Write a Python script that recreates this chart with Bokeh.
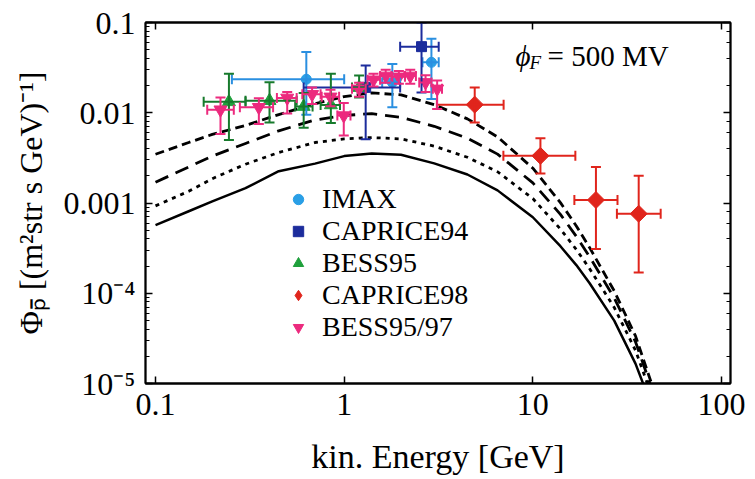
from bokeh.plotting import figure
from bokeh.models import (ColumnDataSource, Whisker, TeeHead, Legend, LegendItem, LogAxis,
                          LogTicker, CustomJSTickFormatter, Label)
from bokeh.embed import file_html
from bokeh.resources import INLINE

FONT = "Liberation Serif"

# ---- propagated antiproton flux models (phi_F = 500 MV) ----
energy_grid = [0.1, 0.15, 0.2, 0.3, 0.45, 0.7, 1.0, 1.4, 2.0, 3.0, 4.5, 6.5,
               10, 14, 17, 20, 27, 35, 45]
flux_solid = [5.7e-4, 8.1e-4, 1.04e-3, 1.46e-3, 2.25e-3, 2.73e-3, 3.31e-3, 3.54e-3,
              3.42e-3, 2.75e-3, 2.07e-3, 1.38e-3, 6.95e-4, 3.32e-4, 2.05e-4, 1.29e-4,
              4.97e-5, 1.66e-5, 4.2e-6]
flux_dotted = [9.3e-4, 1.35e-3, 1.86e-3, 2.69e-3, 3.63e-3, 4.68e-3, 5.13e-3, 5.31e-3,
               5.13e-3, 4.27e-3, 3.21e-3, 2.22e-3, 1.12e-3, 5.15e-4, 3.05e-4, 1.87e-4,
               6.97e-5, 2.33e-5, 5.4e-6]
flux_dashed = [1.7e-3, 2.51e-3, 3.31e-3, 4.57e-3, 6.31e-3, 8.32e-3, 9.33e-3, 9.77e-3,
               8.91e-3, 7.08e-3, 5.22e-3, 3.48e-3, 1.67e-3, 7.48e-4, 4.27e-4, 2.53e-4,
               8.87e-5, 2.9e-5, 6.4e-6]
flux_short_dashed = [3.47e-3, 4.68e-3, 5.75e-3, 7.24e-3, 9.55e-3, 1.26e-2, 1.51e-2,
                     1.66e-2, 1.58e-2, 1.23e-2, 8.55e-3, 5.4e-3, 2.43e-3, 1.01e-3, 5.57e-4,
                     3.2e-4, 1.06e-4, 3.37e-5, 7.1e-6]

# ---- measurements ----
imax_E = [0.63, 1.8, 2.9]
imax_E_lo = [0.254, 1.59, 2.6]
imax_E_hi = [1.0, 1.98, 3.17]
imax_flux = [0.0235, 0.0217, 0.0362]
imax_flux_lo = [0.0095, 0.0115, 0.0142]
imax_flux_hi = [0.047, 0.0347, 0.066]

caprice94_E = [1.30, 2.57]
caprice94_E_lo = [0.61, 1.98]
caprice94_E_hi = [1.98, 3.17]
caprice94_flux = [0.0191, 0.054]
caprice94_flux_lo = [0.0051, 0.0168]
caprice94_flux_hi = [0.0333, 0.1]

bess95_E = [0.245, 0.402, 0.61, 0.85, 1.2]
bess95_E_lo = [0.18, 0.30, 0.55, 0.75, 1.1]
bess95_E_hi = [0.30, 0.56, 0.68, 0.95, 1.3]
bess95_flux = [0.0132, 0.0136, 0.0117, 0.0122, 0.019]
bess95_flux_lo = [0.0050, 0.0078, 0.0068, 0.0077, 0.0148]
bess95_flux_hi = [0.027, 0.0218, 0.0165, 0.027, 0.0258]

caprice98_E = [4.92, 10.97, 21.6, 36.4]
caprice98_E_lo = [3.1, 6.98, 16.6, 27.9]
caprice98_E_hi = [7.0, 16.8, 28.1, 47.6]
caprice98_flux = [0.0123, 0.00333, 0.00108, 0.00076]
caprice98_flux_lo = [0.0078, 0.00212, 0.000309, 0.00017]
caprice98_flux_hi = [0.0191, 0.00523, 0.00251, 0.0020]

bess9597_E = [0.221, 0.353, 0.499, 0.676, 0.846, 0.995, 1.2, 1.43, 1.66, 1.95, 2.24, 2.7, 3.11]
bess9597_E_lo = [0.188, 0.28, 0.44, 0.60, 0.76, 0.92, 1.1, 1.33, 1.55, 1.8, 2.1, 2.5, 2.95]
bess9597_E_hi = [0.26, 0.42, 0.56, 0.75, 0.94, 1.08, 1.3, 1.55, 1.78, 2.1, 2.4, 2.9, 3.3]
bess9597_flux = [0.0108, 0.0115, 0.0146, 0.0160, 0.0150, 0.0093, 0.0184, 0.0232, 0.0256,
                 0.0250, 0.0256, 0.0217, 0.0184]
bess9597_flux_lo = [0.0058, 0.0075, 0.0098, 0.0125, 0.0118, 0.0056, 0.0150, 0.0195, 0.0215,
                    0.021, 0.021, 0.017, 0.0110]
bess9597_flux_hi = [0.0148, 0.0145, 0.017, 0.019, 0.018, 0.0128, 0.0215, 0.027, 0.030,
                    0.029, 0.030, 0.026, 0.0227]

x_tick_exps = [-1, 0, 1, 2]
x_tick_labels = ["0.1", "1", "10", "100"]
y_tick_exps = [-5, -4, -3, -2, -1]
y_tick_labels = ["10\u207b\u2075", "10\u207b\u2074", "0.001", "0.01", "0.1"]

p = figure(width=755, height=479, x_axis_type="log", y_axis_type="log",
           x_range=(0.0885, 111.6), y_range=(1e-5, 0.1),
           output_backend="svg", toolbar_location=None,
           min_border_left=145, min_border_right=25, min_border_top=22, min_border_bottom=96)
p.background_fill_color = "white"
p.border_fill_color = "white"
p.outline_line_color = "black"
p.outline_line_width = 1.8
p.xgrid.visible = False
p.ygrid.visible = False

decade_code = """
const e = Math.round(Math.log10(tick));
const i = exps.indexOf(e);
return i >= 0 ? labels[i] : "";
"""
p.xaxis.ticker = LogTicker(num_minor_ticks=0)
p.xaxis.formatter = CustomJSTickFormatter(args=dict(exps=x_tick_exps, labels=x_tick_labels),
                                          code=decade_code)
p.yaxis.formatter = CustomJSTickFormatter(args=dict(exps=y_tick_exps, labels=y_tick_labels),
                                          code=decade_code)

for ax in (p.xaxis[0], p.yaxis[0]):
    ax.major_label_text_font = FONT
    ax.major_label_text_font_size = "32px"
    ax.major_label_text_color = "black"
    ax.axis_label_text_font = FONT
    ax.axis_label_text_font_style = "normal"
    ax.axis_label_text_color = "black"
    ax.major_tick_in = 7
    ax.major_tick_out = 0
    ax.minor_tick_in = 4
    ax.minor_tick_out = 0
    ax.axis_line_width = 1.8
    ax.major_tick_line_width = 1.5
    ax.minor_tick_line_width = 1

p.xaxis.axis_label = "kin. Energy [GeV]"
p.xaxis.axis_label_text_font_size = "34px"
p.xaxis.major_label_standoff = 10
p.xaxis.axis_label_standoff = 20
p.yaxis.axis_label = "\u03a6\u209a\u0304 [(m\u00b2str s GeV)\u207b\u00b9]"
p.yaxis.axis_label_text_font_size = "32px"
p.yaxis.major_label_standoff = 10
p.yaxis.axis_label_standoff = 12

# mirrored tick marks on the top and right edges
blank = CustomJSTickFormatter(code="return '';")
top_axis = LogAxis(ticker=LogTicker(num_minor_ticks=0), formatter=blank)
right_axis = LogAxis(formatter=blank)
for ax in (top_axis, right_axis):
    ax.major_tick_in = 7
    ax.major_tick_out = 0
    ax.minor_tick_in = 4
    ax.minor_tick_out = 0
    ax.major_label_standoff = 0
    ax.axis_line_width = 1.8
    ax.major_tick_line_width = 1.5
p.add_layout(top_axis, "above")
p.add_layout(right_axis, "right")

# model curves
p.line(energy_grid, flux_short_dashed, line_color="black", line_width=2.8, line_dash="9 5")
p.line(energy_grid, flux_dashed, line_color="black", line_width=2.8, line_dash="14 8")
p.line(energy_grid, flux_dotted, line_color="black", line_width=2.8, line_dash="4 5")
p.line(energy_grid, flux_solid, line_color="black", line_width=2.5)


def add_set(E, E_lo, E_hi, F, F_lo, F_hi, color, bar_color, marker, size, angle=0.0):
    src = ColumnDataSource(dict(E=E, E_lo=E_lo, E_hi=E_hi, F=F, F_lo=F_lo, F_hi=F_hi))
    for dim, base, lo, hi in (("height", "E", "F_lo", "F_hi"), ("width", "F", "E_lo", "E_hi")):
        p.add_layout(Whisker(source=src, base=base, lower=lo, upper=hi, dimension=dim,
                             line_color=bar_color, line_width=2,
                             lower_head=TeeHead(size=10, line_color=bar_color, line_width=2),
                             upper_head=TeeHead(size=10, line_color=bar_color, line_width=2),
                             level="glyph"))
    r = p.scatter("E", "F", source=src, marker=marker, size=size, angle=angle,
                  fill_color=color, line_color=color)
    return src, r


_, r_imax = add_set(imax_E, imax_E_lo, imax_E_hi, imax_flux, imax_flux_lo, imax_flux_hi,
                    "#2a9fe6", "#2a8fe0", "circle", 10)
_, r_c94 = add_set(caprice94_E, caprice94_E_lo, caprice94_E_hi, caprice94_flux,
                   caprice94_flux_lo, caprice94_flux_hi, "#1c2c9c", "#1c2c9c", "square", 10)
_, r_b95 = add_set(bess95_E, bess95_E_lo, bess95_E_hi, bess95_flux, bess95_flux_lo,
                   bess95_flux_hi, "#1fa03c", "#177a2c", "triangle", 13)
src_c98, r_c98_sq = add_set(caprice98_E, caprice98_E_lo, caprice98_E_hi, caprice98_flux,
                            caprice98_flux_lo, caprice98_flux_hi, "#e0251c", "#e0251c",
                            "square", 12, angle=0.7854)
# diamond glyph underneath the rotated squares; it supplies the legend symbol
r_c98 = p.scatter("E", "F", source=src_c98, marker="diamond", size=9,
                  fill_color="#e0251c", line_color="#e0251c", level="underlay")
_, r_b97 = add_set(bess9597_E, bess9597_E_lo, bess9597_E_hi, bess9597_flux, bess9597_flux_lo,
                   bess9597_flux_hi, "#ec2a7e", "#ec2a7e", "inverted_triangle", 13)

legend = Legend(items=[LegendItem(label="IMAX", renderers=[r_imax]),
                       LegendItem(label="CAPRICE94", renderers=[r_c94]),
                       LegendItem(label="BESS95", renderers=[r_b95]),
                       LegendItem(label="CAPRICE98", renderers=[r_c98]),
                       LegendItem(label="BESS95/97", renderers=[r_b97])],
                location=(140, 40), background_fill_alpha=0, border_line_alpha=0,
                label_text_font=FONT, label_text_font_size="28px", label_text_color="black",
                label_text_line_height=1.0,
                glyph_width=26, glyph_height=30, label_height=30, spacing=0,
                padding=0, margin=0, label_standoff=11)
p.add_layout(legend)

# modulation potential annotation
anchor_E, anchor_F = 8.1, 0.043
p.add_layout(Label(x=anchor_E, y=anchor_F, text="\u03d5", text_font=FONT, text_color="black",
                   text_font_style="italic", text_font_size="29px", text_baseline="middle"))
p.add_layout(Label(x=anchor_E, y=anchor_F, x_offset=14, y_offset=-7, text="F", text_font=FONT,
                   text_color="black", text_font_style="italic", text_font_size="19px",
                   text_baseline="middle"))
p.add_layout(Label(x=anchor_E, y=anchor_F, x_offset=32, text="= 500 MV", text_font=FONT,
                   text_color="black", text_font_size="29px", text_baseline="middle"))

open("out.html", "w").write(file_html(p, INLINE, "antiproton flux"))
